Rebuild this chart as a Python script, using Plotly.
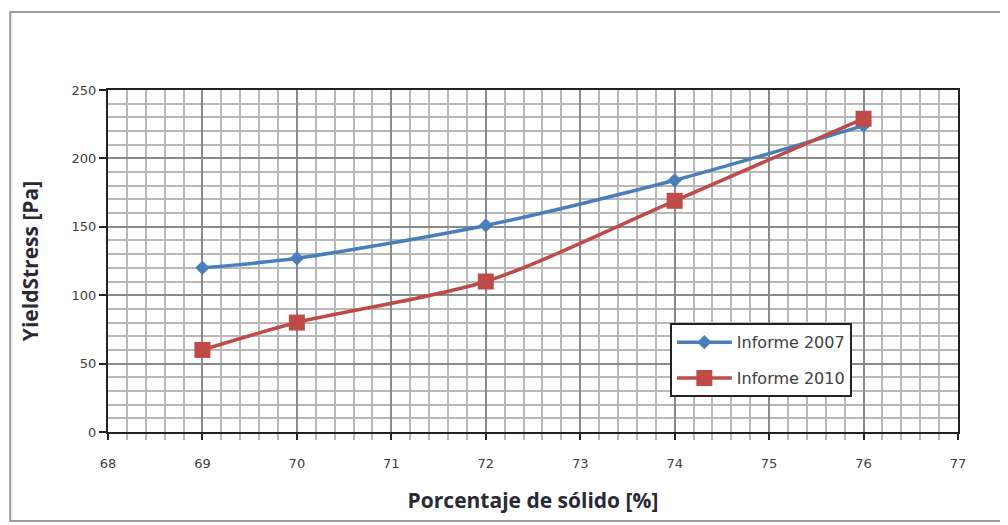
import plotly.graph_objects as go

x_vals = [69, 70, 72, 74, 76]
informe_2007 = [120, 127, 151, 184, 224]
informe_2010 = [60, 80, 110, 169, 229]
x_ticks = [68, 69, 70, 71, 72, 73, 74, 75, 76, 77]
y_ticks = [0, 50, 100, 150, 200, 250]

fig = go.Figure()
fig.add_trace(go.Scatter(
    x=x_vals, y=informe_2007, name="Informe 2007", mode="lines+markers",
    legendgroup="a",
    line=dict(color="#4A7EBB", width=3.5, shape="spline", smoothing=0.8),
    marker=dict(symbol="diamond", size=11, color="#4A7EBB"),
))
fig.add_trace(go.Scatter(
    x=x_vals, y=informe_2010, name="Informe 2010", mode="lines+markers",
    legendgroup="b",
    line=dict(color="#BE4B48", width=3.5, shape="spline", smoothing=0.8),
    marker=dict(symbol="square", size=16, color="#BE4B48"),
))

tick_font = dict(family="DejaVu Sans", size=13, color="#404040")
title_font = dict(family="Open Sans", size=21, color="#2a2a35")

fig.update_xaxes(
    range=[68, 77], tickvals=x_ticks, ticktext=[str(v) for v in x_ticks],
    showgrid=True, gridcolor="#8a8a8a", gridwidth=1.5,
    minor=dict(dtick=0.2, showgrid=True, gridcolor="#b8b8b8", gridwidth=1.5,
               ticks="outside", ticklen=6, tickcolor="#b8b8b8"),
    ticks="outside", ticklen=6, tickwidth=2, tickcolor="#222",
    showline=True, linecolor="#222", linewidth=2, mirror=True,
    tickfont=tick_font, ticklabelstandoff=12,
    title=dict(text="<b>Porcentaje de sólido [%]</b>", font=title_font, standoff=24),
    zeroline=False,
)
fig.update_yaxes(
    range=[0, 250], tickvals=y_ticks,
    showgrid=True, gridcolor="#8a8a8a", gridwidth=1.5,
    minor=dict(dtick=10, showgrid=True, gridcolor="#b8b8b8", gridwidth=1.5),
    ticks="outside", ticklen=7, tickwidth=2, tickcolor="#222",
    showline=True, linecolor="#222", linewidth=2, mirror=True,
    tickfont=tick_font,
    title=dict(text="<b>YieldStress [Pa]</b>", font=title_font, standoff=27),
    zeroline=False,
)

fig.update_layout(
    width=1000, height=517,
    margin=dict(l=100, r=50, t=82, b=93),
    paper_bgcolor="white", plot_bgcolor="white",
    showlegend=True,
    legend=dict(
        x=0.661, y=0.318, xanchor="left", yanchor="top",
        bgcolor="white", bordercolor="#222", borderwidth=2,
        font=dict(family="DejaVu Sans", size=16, color="#404040"),
        itemwidth=55, tracegroupgap=12, traceorder="grouped",
    ),
)

fig.add_shape(type="rect", xref="paper", yref="paper",
              x0=-0.115, x1=1.055, y0=-0.26, y1=1.228,
              line=dict(color="#9a9a9a", width=2), fillcolor="rgba(0,0,0,0)",
              layer="below")

fig.write_html("out.html")
